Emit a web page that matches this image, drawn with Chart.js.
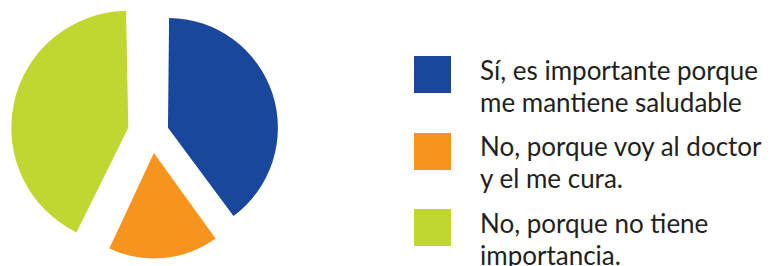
<!DOCTYPE html>
<html>
<head>
<meta charset="utf-8">
<script src="https://cdn.jsdelivr.net/npm/chart.js@4.4.1/dist/chart.umd.min.js"></script>
<style>
    html, body { margin: 0; padding: 0; background: #ffffff; }
    body { width: 775px; height: 266px; position: relative; overflow: hidden; font-family: Lato, "Open Sans", sans-serif; }
    #pieChart { position: absolute; left: 0; top: 0; }
    #legend { position: absolute; left: 414px; top: 56px; }
    .item { display: flex; align-items: flex-start; height: 64px; margin-bottom: 12.5px; }
    .box { width: 37px; height: 37px; flex: none; }
    .text { margin-left: 29px; margin-top: -2.5px; font-size: 26px; line-height: 32px; color: #231f20; white-space: nowrap; }
</style>
</head>
<body>
<canvas id="pieChart" width="304" height="266"></canvas>
<div id="legend"></div>
<script>
const labels = [
    ['Sí, es importante porque', 'me mantiene saludable'],
    ['No, porque voy al doctor', 'y el me cura.'],
    ['No, porque no tiene', 'importancia.']
];
const values = [40, 17, 43];
const colors = ['#19479b', '#f7941e', '#bfd730'];

document.addEventListener('DOMContentLoaded', function() {
    const ctx = document.getElementById('pieChart').getContext('2d');

    // Exploded pie, each slice pulled out by its own amount
    new Chart(ctx, {
        type: 'pie',
        data: {
            labels: labels.map(l => l.join(' ')),
            datasets: [{
                data: values,
                backgroundColor: colors,
                borderWidth: 0,
                offset: [67.2, 80, 97.2]
            }]
        },
        options: {
            responsive: false,
            animation: false,
            radius: 103,
            plugins: {
                legend: { display: false },
                tooltip: { enabled: false }
            }
        }
    });

    // Legend built from the same arrays
    const legend = document.getElementById('legend');
    labels.forEach((lines, i) => {
        const item = document.createElement('div');
        item.className = 'item';
        const box = document.createElement('div');
        box.className = 'box';
        box.style.background = colors[i];
        const text = document.createElement('div');
        text.className = 'text';
        text.innerHTML = lines.join('<br>');
        item.appendChild(box);
        item.appendChild(text);
        legend.appendChild(item);
    });
});
</script>
</body>
</html>
